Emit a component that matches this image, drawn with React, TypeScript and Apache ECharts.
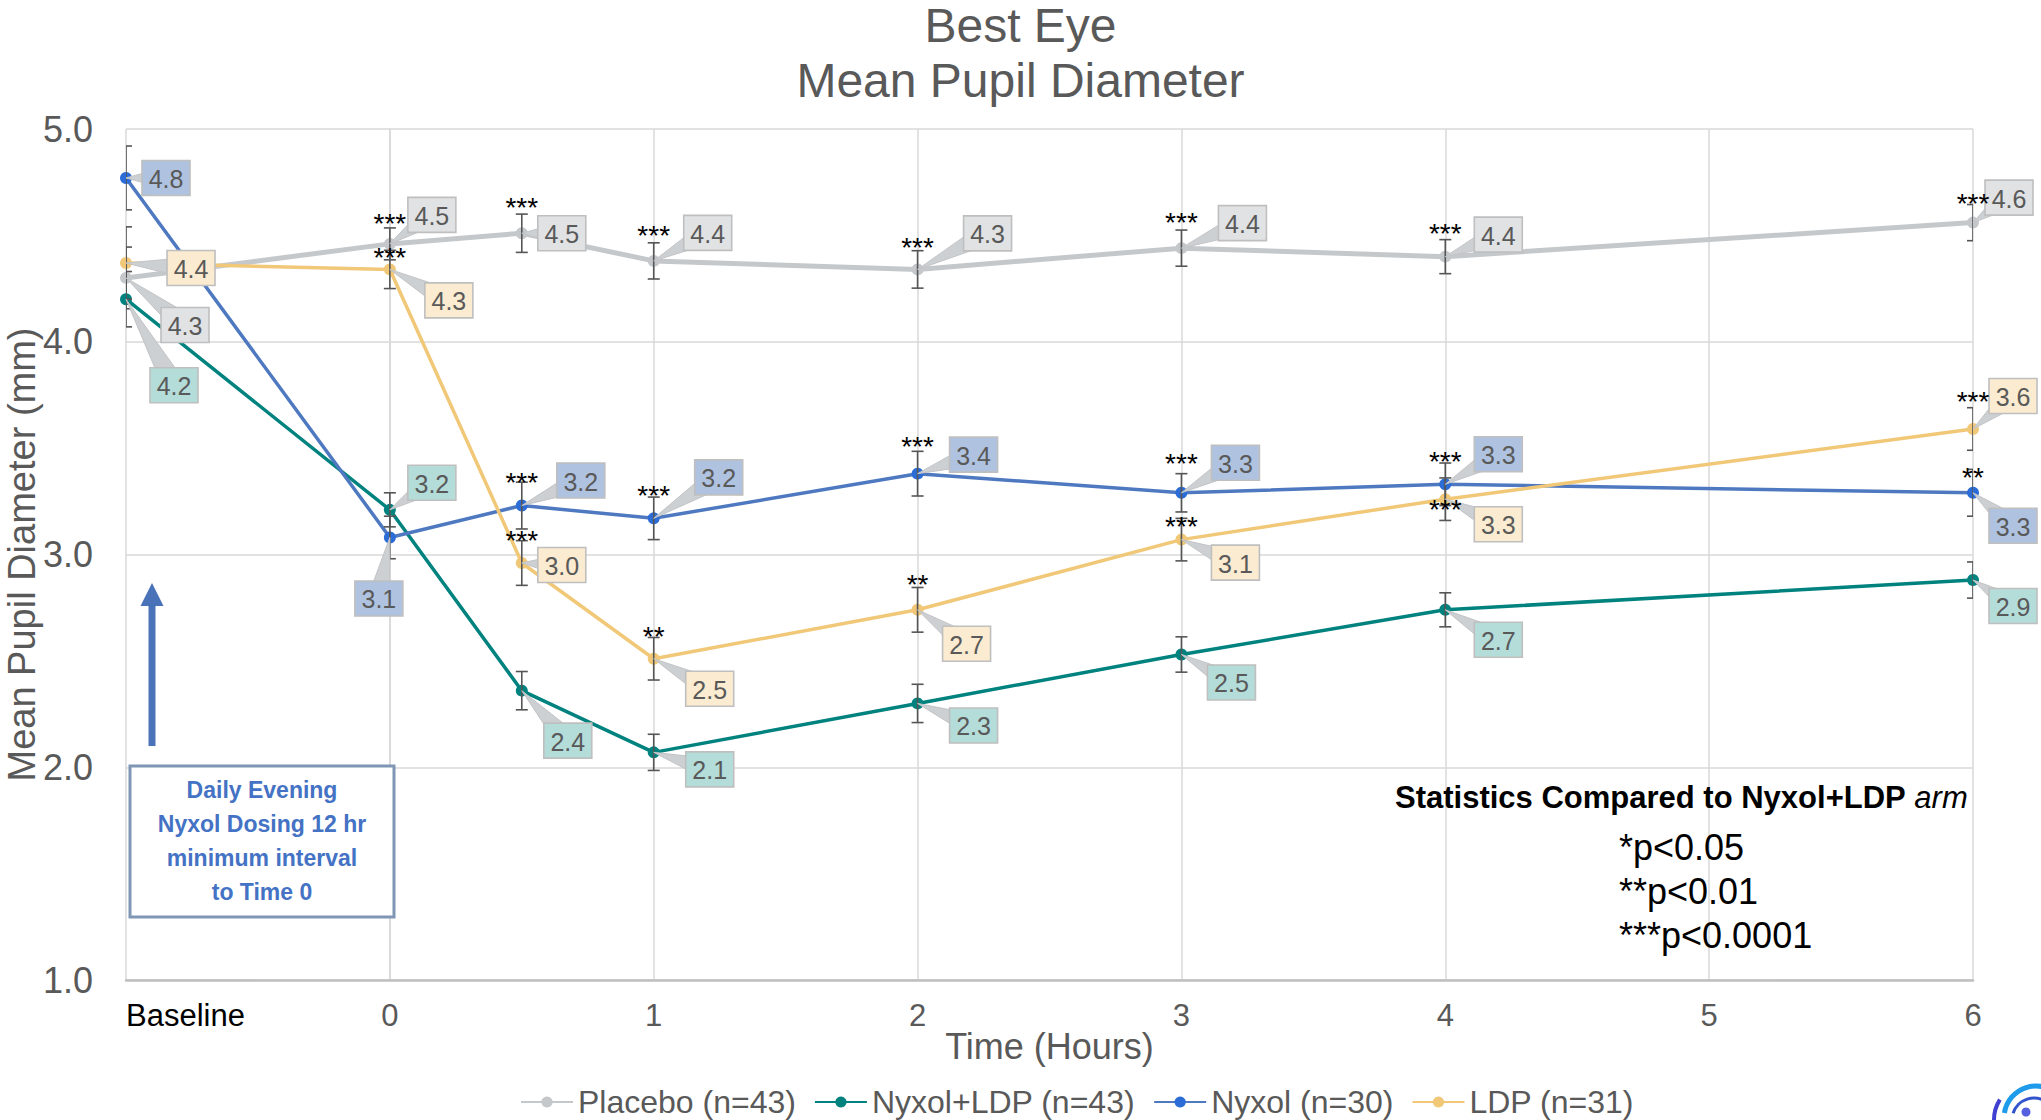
import React, { useEffect, useRef } from "react";
import * as echarts from "echarts";

// ---------- data ----------
const TIMES = [-1, 0, 0.5, 1, 2, 3, 4, 6]; // -1 = Baseline
const SERIES_NAMES = ["Placebo (n=43)", "Nyxol+LDP (n=43)", "Nyxol (n=30)", "LDP (n=31)"];

const PLACEBO = [4.30, 4.46, 4.51, 4.38, 4.34, 4.44, 4.40, 4.56];
const NYXOL_LDP = [4.20, 3.21, 2.36, 2.07, 2.30, 2.53, 2.74, 2.88];
const NYXOL = [4.77, 3.08, 3.23, 3.17, 3.38, 3.29, 3.33, 3.29];
const LDP = [4.37, 4.34, 2.96, 2.51, 2.74, 3.07, 3.26, 3.59];

const PLACEBO_SEM = [0.145, 0.075, 0.09, 0.085, 0.088, 0.085, 0.08, 0.085];
const NYXOL_LDP_SEM = [0.13, 0.08, 0.09, 0.085, 0.09, 0.083, 0.08, 0.085];
const NYXOL_SEM = [0.15, 0.10, 0.11, 0.10, 0.105, 0.09, 0.10, 0.11];
const LDP_SEM = [0.17, 0.09, 0.105, 0.10, 0.105, 0.10, 0.10, 0.10];

const PLACEBO_SIG = ["", "***", "***", "***", "***", "***", "***", "***"];
const NYXOL_LDP_SIG = ["", "", "", "", "", "", "", ""];
const NYXOL_SIG = ["", "", "***", "***", "***", "***", "***", "**"];
const LDP_SIG = ["", "***", "***", "**", "**", "***", "***", "***"];

const X_TICKS_MIN = -1;
const X_TICKS_MAX = 6;
const Y_MIN = 1;
const Y_MAX = 5;

const LEGEND_NOTE = ["*p<0.05", "**p<0.01", "***p<0.0001"];

// ---------- layout (pixel offsets of callout boxes and star marks) ----------
const OFF_PLACEBO = [[59, 47], [42, -29], [40, 0], [54, -28], [70, -36], [61, -25], [53, -22], [36, -25]];
const OFF_NYXOL_LDP = [[48, 86], [42, -27], [46, 50], [56, 17], [56, 22], [50, 28], [53, 30], [40, 26]];
const OFF_NYXOL = [[40, 0], [-11, 61], [59, -25], [65, -41], [56, -19], [54, -30], [53, -30], [40, 33]];
const OFF_LDP = [[65, 5], [59, 31], [40, 2], [56, 30], [49, 34], [54, 23], [53, 25], [40, -33]];

const STAR_DY_PLACEBO = [0, -27, -33, -32, -29, -33, -30, -26];
const STAR_DY_NYXOL_LDP = [0, 0, 0, 0, 0, 0, 0, 0];
const STAR_DY_NYXOL = [0, 0, -30, -30, -34, -36, -30, -22];
const STAR_DY_LDP = [0, -19, -30, -29, -32, -20, 3, -34];

const FONT = "'Liberation Sans', Arial, Helvetica, sans-serif";

const STYLES = [
  { line: "#C5C8CB", marker: "#C5C8CB", box: "#E0E2E3", width: 5 },
  { line: "#00827F", marker: "#00827F", box: "#B4DCD9", width: 3.5 },
  { line: "#4E79C0", marker: "#2B6CD6", box: "#AFC3E0", width: 3.5 },
  { line: "#F0C878", marker: "#F0C878", box: "#FBEBD0", width: 3.5 },
];

const VALUES = [PLACEBO, NYXOL_LDP, NYXOL, LDP];
const SEMS = [PLACEBO_SEM, NYXOL_LDP_SEM, NYXOL_SEM, LDP_SEM];
const SIGS = [PLACEBO_SIG, NYXOL_LDP_SIG, NYXOL_SIG, LDP_SIG];
const OFFS = [OFF_PLACEBO, OFF_NYXOL_LDP, OFF_NYXOL, OFF_LDP];
const STAR_DYS = [STAR_DY_PLACEBO, STAR_DY_NYXOL_LDP, STAR_DY_NYXOL, STAR_DY_LDP];

function buildOption() {
  const series: any[] = [];

  // lines
  VALUES.forEach((vals, s) => {
    series.push({
      name: SERIES_NAMES[s],
      type: "line",
      data: TIMES.map((t, i) => [t, vals[i]]),
      symbol: "circle",
      symbolSize: 12,
      showSymbol: true,
      clip: false,
      z: 2,
      lineStyle: { color: STYLES[s].line, width: STYLES[s].width },
      itemStyle: { color: STYLES[s].marker },
    });
  });

  // error bars
  VALUES.forEach((vals, s) => {
    series.push({
      name: SERIES_NAMES[s] + " SEM",
      type: "custom",
      z: 3,
      clip: true,
      data: TIMES.map((t, i) => [t, vals[i], SEMS[s][i]]),
      encode: { x: 0, y: 1 },
      renderItem: (params: any, api: any) => {
        const x = api.value(0);
        const y = api.value(1);
        const e = api.value(2);
        const top = api.coord([x, y + e]);
        const bot = api.coord([x, y - e]);
        const cap = 6;
        const st = { stroke: "#555555", lineWidth: 1.6 };
        return {
          type: "group",
          children: [
            { type: "line", shape: { x1: top[0], y1: top[1], x2: bot[0], y2: bot[1] }, style: st },
            { type: "line", shape: { x1: top[0] - cap, y1: top[1], x2: top[0] + cap, y2: top[1] }, style: st },
            { type: "line", shape: { x1: bot[0] - cap, y1: bot[1], x2: bot[0] + cap, y2: bot[1] }, style: st },
          ],
        };
      },
    });
  });

  // callout labels
  VALUES.forEach((vals, s) => {
    series.push({
      name: SERIES_NAMES[s] + " labels",
      type: "custom",
      z: 4,
      data: TIMES.map((t, i) => [t, vals[i], OFFS[s][i][0], OFFS[s][i][1]]),
      encode: { x: 0, y: 1 },
      renderItem: (params: any, api: any) => {
        const x = api.value(0);
        const y = api.value(1);
        const dx = api.value(2);
        const dy = api.value(3);
        const p = api.coord([x, y]);
        const c = [p[0] + dx, p[1] + dy];
        const len = Math.sqrt(dx * dx + dy * dy) || 1;
        const nx = -dy / len;
        const ny = dx / len;
        const hw = 11;
        const w = 48;
        const h = 35;
        return {
          type: "group",
          children: [
            {
              type: "polygon",
              shape: {
                points: [
                  [p[0], p[1]],
                  [c[0] + nx * hw, c[1] + ny * hw],
                  [c[0] - nx * hw, c[1] - ny * hw],
                ],
              },
              style: { fill: "#CDD0D3", stroke: "#C2C4C6", lineWidth: 1 },
            },
            {
              type: "rect",
              shape: { x: c[0] - w / 2, y: c[1] - h / 2, width: w, height: h },
              style: { fill: STYLES[s].box, stroke: "#BFBFBF", lineWidth: 1.6 },
            },
            {
              type: "text",
              x: c[0],
              y: c[1] + 1,
              style: {
                text: Number(y).toFixed(1),
                fill: "#595959",
                font: `25px ${FONT}`,
                align: "center",
                verticalAlign: "middle",
              },
            },
          ],
        };
      },
    });
  });

  // significance stars
  VALUES.forEach((vals, s) => {
    series.push({
      name: SERIES_NAMES[s] + " sig",
      type: "custom",
      z: 5,
      data: TIMES.map((t, i) => [t, vals[i], STAR_DYS[s][i]]),
      encode: { x: 0, y: 1 },
      renderItem: (params: any, api: any) => {
        const idx = params.dataIndex;
        const txt = SIGS[s][idx];
        if (!txt) return null;
        const p = api.coord([api.value(0), api.value(1)]);
        return {
          type: "text",
          x: p[0],
          y: p[1] + api.value(2) + 7,
          style: {
            text: txt,
            fill: "#000000",
            font: `28px ${FONT}`,
            align: "center",
            verticalAlign: "middle",
          },
        };
      },
    });
  });

  const graphic: any[] = [
    // arrow
    {
      type: "polygon",
      shape: {
        points: [
          [148.5, 746], [155.5, 746], [155.5, 606], [163.5, 606], [152, 583], [140.5, 606], [148.5, 606],
        ],
      },
      style: { fill: "#4A72B8" },
      z: 10,
    },
    // annotation box
    {
      type: "rect",
      shape: { x: 130, y: 766, width: 264, height: 151 },
      style: { fill: "#FFFFFF", stroke: "#7F96B4", lineWidth: 3 },
      z: 10,
    },
    {
      type: "text",
      x: 262,
      y: 841,
      z: 11,
      style: {
        text: "Daily Evening\nNyxol Dosing 12 hr\nminimum interval\nto Time 0",
        font: `bold 23px ${FONT}`,
        fill: "#4472C4",
        align: "center",
        verticalAlign: "middle",
        lineHeight: 34,
      },
    },
    // statistics note
    {
      type: "text",
      x: 1395,
      y: 797,
      z: 11,
      style: {
        text: "{b|Statistics Compared to Nyxol+LDP }{i|arm}",
        verticalAlign: "middle",
        align: "left",
        rich: {
          b: { font: `bold 31px ${FONT}`, fill: "#000000" },
          i: { font: `italic 31px ${FONT}`, fill: "#000000" },
        },
      },
    },
    ...LEGEND_NOTE.map((t, i) => ({
      type: "text",
      x: 1619,
      y: 847 + i * 44,
      z: 11,
      style: { text: t, font: `36px ${FONT}`, fill: "#000000", align: "left", verticalAlign: "middle" },
    })),
    // logo (partially cut)
    {
      type: "arc",
      shape: { cx: 2032, cy: 1120, r: 38, startAngle: Math.PI * 0.97, endAngle: Math.PI * 1.18 },
      style: { stroke: "#3F3FD2", lineWidth: 4, fill: "none" },
      z: 11,
    },
    {
      type: "arc",
      shape: { cx: 2036, cy: 1118, r: 32, startAngle: Math.PI * 1.05, endAngle: Math.PI * 1.75 },
      style: { stroke: "#1E9BEA", lineWidth: 5, fill: "none" },
      z: 11,
    },
    {
      type: "arc",
      shape: { cx: 2034, cy: 1120, r: 22, startAngle: Math.PI * 1.1, endAngle: Math.PI * 1.7 },
      style: { stroke: "#3355CC", lineWidth: 3, fill: "none" },
      z: 11,
    },
    {
      type: "circle",
      shape: { cx: 2026, cy: 1112, r: 4.5 },
      style: { fill: "#5560E0" },
      z: 11,
    },
  ];

  return {
    animation: false,
    backgroundColor: "#FFFFFF",
    textStyle: { fontFamily: FONT },
    title: {
      text: "Best Eye\nMean Pupil Diameter",
      left: "center",
      top: -7,
      textStyle: { fontFamily: FONT, fontSize: 48, fontWeight: "normal", color: "#595959", lineHeight: 55 },
    },
    grid: { left: 126, right: 68, top: 129, bottom: 140, containLabel: false, outerBoundsMode: "none" },
    legend: {
      data: SERIES_NAMES,
      left: 515,
      top: 1080,
      itemWidth: 52,
      itemHeight: 14,
      itemGap: 18,
      textStyle: { fontFamily: FONT, fontSize: 32, color: "#595959", lineHeight: 34 },
    },
    xAxis: {
      type: "value",
      min: X_TICKS_MIN,
      max: X_TICKS_MAX,
      interval: 1,
      name: "Time (Hours)",
      nameLocation: "middle",
      nameGap: 66,
      nameMoveOverlap: false,
      nameTextStyle: { fontFamily: FONT, fontSize: 36, color: "#595959", verticalAlign: "middle" },
      axisLine: { show: true, lineStyle: { color: "#BFBFBF", width: 2.5 } },
      axisTick: { show: false },
      splitLine: { show: true, lineStyle: { color: "#D9D9D9", width: 1.5 } },
      axisLabel: {
        fontFamily: FONT,
        fontSize: 31,
        color: "#595959",
        margin: 20,
        showMinLabel: true,
        showMaxLabel: true,
        alignMinLabel: "left",
        formatter: (v: number) => (v === -1 ? "{base|Baseline}" : String(v)),
        rich: { base: { fontFamily: FONT, fontSize: 31, color: "#000000" } },
      },
    },
    yAxis: {
      type: "value",
      min: Y_MIN,
      max: Y_MAX,
      interval: 1,
      name: "Mean Pupil Diameter (mm)",
      nameLocation: "middle",
      nameGap: 104,
      nameMoveOverlap: false,
      nameTextStyle: { fontFamily: FONT, fontSize: 38, color: "#595959", verticalAlign: "middle" },
      axisLine: { show: true, lineStyle: { color: "#D9D9D9", width: 1.5 } },
      axisTick: { show: false },
      splitLine: { show: true, lineStyle: { color: "#D9D9D9", width: 1.5 } },
      axisLabel: {
        fontFamily: FONT,
        fontSize: 36,
        color: "#595959",
        margin: 33,
        formatter: (v: number) => v.toFixed(1),
      },
    },
    series,
    graphic,
  };
}

export default function App() {
  const ref = useRef<HTMLDivElement>(null);
  useEffect(() => {
    if (!ref.current) return;
    const chart = echarts.init(ref.current, undefined, { renderer: "svg" });
    chart.setOption(buildOption() as any);
    return () => chart.dispose();
  }, []);
  return (
    <div
      ref={ref}
      style={{ position: "fixed", left: 0, top: 0, width: 2041, height: 1120, background: "#fff" }}
    />
  );
}
